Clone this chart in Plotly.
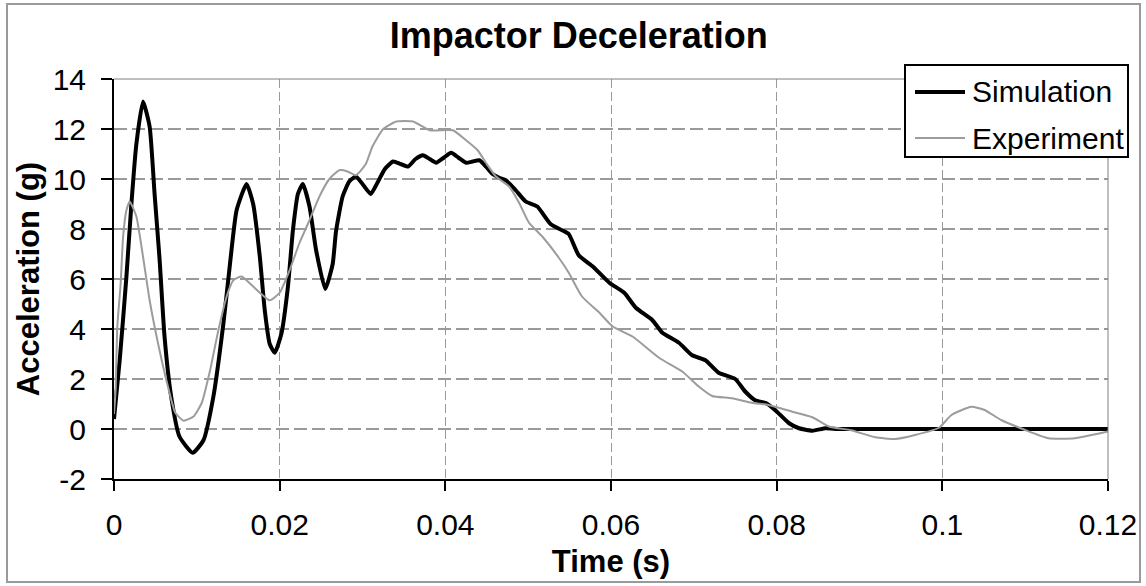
import plotly.graph_objects as go

# ---- data ----
sim_time = [0, 0.0007, 0.0015, 0.0021, 0.0027, 0.0035, 0.0043, 0.0049, 0.0055, 0.0061,
            0.0069, 0.0079, 0.0095, 0.0108, 0.0120, 0.0132, 0.0140, 0.0148, 0.0160, 0.0168,
            0.0176, 0.0182, 0.0188, 0.0194, 0.0202, 0.0210, 0.0216, 0.0222, 0.0228, 0.0236,
            0.0244, 0.0255, 0.0264, 0.0268, 0.0276, 0.0284, 0.0292, 0.0300, 0.0310, 0.0318,
            0.0327, 0.0337, 0.0346, 0.0355, 0.0364, 0.0373, 0.0381, 0.0389, 0.0398, 0.0407,
            0.0416, 0.0425, 0.0433, 0.0441, 0.0449, 0.0457, 0.0465, 0.0473, 0.0485, 0.0497,
            0.0511, 0.0527, 0.0541, 0.0549, 0.0561, 0.0578, 0.0598, 0.0616, 0.0630, 0.0650,
            0.0662, 0.0682, 0.0698, 0.0714, 0.0730, 0.0750, 0.0762, 0.0774, 0.0788, 0.0800,
            0.0815, 0.0827, 0.0843, 0.0859, 0.0875, 0.1000, 0.1200]
sim_accel = [0.4, 2.8, 6.1, 9.0, 11.4, 13.1, 12.1, 9.4, 6.8, 3.7,
             1.3, -0.3, -0.95, -0.45, 1.3, 4.2, 6.6, 8.75, 9.8, 9.0,
             6.9, 4.75, 3.4, 3.05, 3.8, 5.7, 7.95, 9.4, 9.8, 8.9,
             7.15, 5.6, 6.6, 7.9, 9.3, 9.9, 10.1, 9.8, 9.4, 9.85,
             10.4, 10.7, 10.6, 10.5, 10.8, 10.95, 10.8, 10.65, 10.85, 11.05,
             10.85, 10.65, 10.7, 10.75, 10.5, 10.2, 10.05, 9.95, 9.55, 9.1,
             8.9, 8.2, 7.95, 7.8, 6.95, 6.5, 5.85, 5.45, 4.85, 4.35,
             3.85, 3.45, 2.95, 2.75, 2.25, 2.0, 1.5, 1.15, 1.02, 0.7,
             0.23, 0.03, -0.07, 0.03, 0.0, 0.0, 0.0]

exp_time = [0, 0.0002, 0.0004, 0.0008, 0.0011, 0.0015, 0.0019, 0.0027, 0.0035, 0.0043,
            0.0053, 0.0064, 0.0074, 0.0084, 0.0096, 0.0106, 0.0116, 0.0126, 0.0136, 0.0144,
            0.0154, 0.0168, 0.0188, 0.0200, 0.0212, 0.0224, 0.0236, 0.0248, 0.0260, 0.0272,
            0.0282, 0.0292, 0.0304, 0.0312, 0.0325, 0.0341, 0.0361, 0.0381, 0.0409, 0.0425,
            0.0439, 0.0449, 0.0461, 0.0477, 0.0489, 0.0501, 0.0517, 0.0537, 0.0549, 0.0565,
            0.0586, 0.0602, 0.0626, 0.0658, 0.0686, 0.0706, 0.0722, 0.0746, 0.0770, 0.0790,
            0.0819, 0.0843, 0.0863, 0.0890, 0.0919, 0.0943, 0.0967, 0.0996, 0.1011, 0.1035,
            0.1051, 0.1071, 0.1100, 0.1128, 0.1160, 0.1200]
exp_accel = [0.6, 1.6, 4.1, 5.8, 7.7, 8.75, 9.1, 8.5, 6.9, 5.15,
             3.45, 1.85, 0.65, 0.33, 0.5, 1.05, 2.35, 3.95, 5.3, 5.95,
             6.1, 5.7, 5.15, 5.45, 6.35, 7.45, 8.35, 9.3, 10.0, 10.35,
             10.3, 10.15, 10.6, 11.3, 12.0, 12.3, 12.3, 11.95, 11.95, 11.55,
             11.15, 10.65, 10.1, 9.7, 9.05, 8.25, 7.7, 6.85, 6.25, 5.3,
             4.65, 4.1, 3.7, 2.85, 2.3, 1.7, 1.32, 1.23, 1.05, 0.96,
             0.69, 0.47, 0.1, -0.05, -0.33, -0.4, -0.24, 0.05, 0.56, 0.89,
             0.76, 0.36, -0.04, -0.37, -0.37, -0.1]

series_names = ["Simulation", "Experiment"]
x_tickvals = [0, 0.02, 0.04, 0.06, 0.08, 0.1, 0.12]
x_ticktext = ["0", "0.02", "0.04", "0.06", "0.08", "0.1", "0.12"]
y_tickvals = [-2, 0, 2, 4, 6, 8, 10, 12, 14]
y_ticktext = ["-2", "0", "2", "4", "6", "8", "10", "12", "14"]

FONT = "Liberation Sans, Arial, sans-serif"
SIM_COLOR, EXP_COLOR = "#000000", "#9c9c9c"

fig = go.Figure()
fig.add_trace(go.Scatter(x=sim_time, y=sim_accel, mode="lines", name=series_names[0],
                         line=dict(color=SIM_COLOR, width=4, shape="spline", smoothing=0.5)))
fig.add_trace(go.Scatter(x=exp_time, y=exp_accel, mode="lines", name=series_names[1],
                         line=dict(color=EXP_COLOR, width=2, shape="spline", smoothing=0.5)))

# plot area geometry (px): left 114, right 1108, top 79, bottom 479
L, R, T, B = 114, 1108, 79, 479
W, H = R - L, B - T

def px_x(p):
    return (p - L) / W

def px_y(p):
    return (B - p) / H

shapes = [
    # top and right plot-area border (gray)
    dict(type="line", xref="paper", yref="paper", x0=0, x1=1, y0=1, y1=1,
         line=dict(color="#808080", width=1), layer="above"),
    dict(type="line", xref="paper", yref="paper", x0=1, x1=1, y0=0, y1=1,
         line=dict(color="#808080", width=1), layer="above"),
    # outer chart border
    dict(type="rect", xref="paper", yref="paper",
         x0=px_x(7), x1=px_x(1140), y0=px_y(582), y1=px_y(4),
         line=dict(color="#9a9a9a", width=2), fillcolor="rgba(0,0,0,0)", layer="below"),
    # legend box
    dict(type="rect", xref="paper", yref="paper",
         x0=px_x(905), x1=px_x(1128), y0=px_y(157), y1=px_y(65),
         line=dict(color="black", width=2), fillcolor="white", layer="above"),
    # legend samples
    dict(type="line", xref="paper", yref="paper",
         x0=px_x(915), x1=px_x(965), y0=px_y(92), y1=px_y(92),
         line=dict(color=SIM_COLOR, width=4), layer="above"),
    dict(type="line", xref="paper", yref="paper",
         x0=px_x(915), x1=px_x(965), y0=px_y(138), y1=px_y(138),
         line=dict(color=EXP_COLOR, width=2), layer="above"),
]

annotations = [
    dict(text=series_names[0], xref="paper", yref="paper", x=px_x(970), y=px_y(92),
         xanchor="left", yanchor="middle", showarrow=False,
         font=dict(family=FONT, size=30, color="black")),
    dict(text=series_names[1], xref="paper", yref="paper", x=px_x(970), y=px_y(138),
         xanchor="left", yanchor="middle", showarrow=False,
         font=dict(family=FONT, size=30, color="black")),
]

fig.update_layout(
    width=1146, height=586,
    margin=dict(l=L, r=1146 - R, t=T, b=586 - B, autoexpand=False),
    paper_bgcolor="white", plot_bgcolor="white",
    font=dict(family=FONT, size=30, color="black"),
    title=dict(text="Impactor Deceleration", x=0.505, xanchor="center",
               y=1 - 35 / 586, yanchor="middle",
               font=dict(family=FONT, size=36, weight="bold", color="black")),
    showlegend=False,
    shapes=shapes,
    annotations=annotations,
)

fig.update_xaxes(
    range=[0, 0.12], tickvals=x_tickvals, ticktext=x_ticktext,
    showgrid=True, gridcolor="#9a9a9a", gridwidth=1, griddash="9px,4px",
    zeroline=False, showline=True, linecolor="black", linewidth=2,
    ticks="outside", ticklen=10, tickwidth=2, tickcolor="black",
    tickfont=dict(family=FONT, size=30, color="black"),
    ticklabelstandoff=8, automargin=False,
    title=dict(text="Time (s)", standoff=10,
               font=dict(family=FONT, size=31, weight="bold", color="black")),
)
fig.update_yaxes(
    range=[-2, 14], tickvals=y_tickvals, ticktext=y_ticktext,
    showgrid=True, gridcolor="#9a9a9a", gridwidth=2, griddash="13px,5px",
    zeroline=False, showline=True, linecolor="black", linewidth=2,
    ticks="outside", ticklen=11, tickwidth=2, tickcolor="black",
    tickfont=dict(family=FONT, size=30, color="black"),
    ticklabelstandoff=9, automargin=False,
    title=dict(text="Acceleration (g)", standoff=4,
               font=dict(family=FONT, size=31, weight="bold", color="black")),
)

# the page's default 8px body margin would shift the chart; remove it
fig.write_html("out.html", config={"displayModeBar": False},
               post_script="document.body.style.margin='0';")
